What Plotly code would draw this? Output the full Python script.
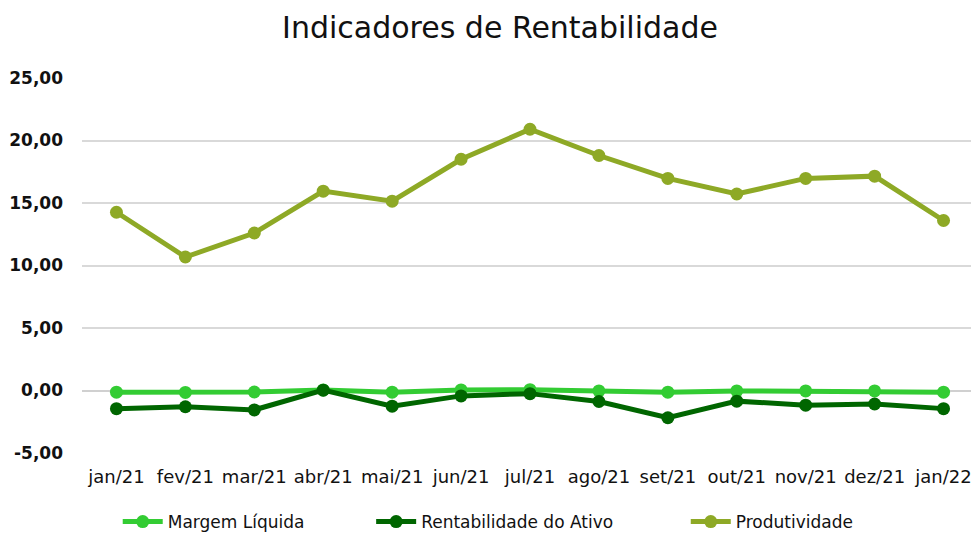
import plotly.graph_objects as go

months = ["jan/21", "fev/21", "mar/21", "abr/21", "mai/21", "jun/21", "jul/21",
          "ago/21", "set/21", "out/21", "nov/21", "dez/21", "jan/22"]
margem_liquida = [-0.13, -0.15, -0.12, 0.05, -0.13, 0.05, 0.07, -0.03, -0.13, -0.03, -0.03, -0.03, -0.13]
rentabilidade_ativo = [-1.45, -1.3, -1.55, 0.03, -1.25, -0.43, -0.25, -0.88, -2.18, -0.85, -1.17, -1.08, -1.45]
produtividade = [14.26, 10.68, 12.6, 15.95, 15.15, 18.5, 20.9, 18.8, 16.97, 15.72, 16.97, 17.15, 13.6]

y_ticks = [-5, 0, 5, 10, 15, 20, 25]
y_tick_labels = ["-5,00", "0,00", "5,00", "10,00", "15,00", "20,00", "25,00"]

FONT = "DejaVu Sans"
TXT = "#111111"
W, H = 971, 525  # page body has an 8px margin

fig = go.Figure()
series = [
    ("Margem Líquida", margem_liquida, "#33cc33", "legend", 0.113),
    ("Rentabilidade do Ativo", rentabilidade_ativo, "#006600", "legend2", 0.374),
    ("Produtividade", produtividade, "#8ea926", "legend3", 0.698),
]
legends = {}
for name, vals, color, leg, lx in series:
    fig.add_trace(go.Scatter(
        x=months, y=vals, name=name, mode="lines+markers",
        line=dict(color=color, width=5),
        marker=dict(color=color, size=13),
        legend=leg,
    ))
    legends[leg] = dict(orientation="h", x=lx, xref="container", xanchor="left",
                        y=1 - 514 / H, yref="container", yanchor="middle",
                        font=dict(family=FONT, size=17, color=TXT),
                        bgcolor="rgba(0,0,0,0)", itemwidth=40)

fig.update_layout(
    width=W, height=H,
    paper_bgcolor="white", plot_bgcolor="white",
    margin=dict(l=74, r=1, t=70, b=80),
    title=dict(text="Indicadores de Rentabilidade", x=(500 - 8) / W, xref="container",
               xanchor="center", y=1 - 19 / H, yanchor="middle", yref="container",
               font=dict(family=FONT, size=30, color=TXT)),
    font=dict(family=FONT, color=TXT),
    showlegend=True,
    xaxis=dict(type="category", range=[-0.5, len(months) - 0.5],
               showgrid=False, showline=False, ticks="",
               tickfont=dict(family=FONT, size=18, color=TXT),
               ticklabelstandoff=11, automargin=False, fixedrange=True),
    yaxis=dict(range=[-5, 25], tickvals=y_ticks, ticktext=y_tick_labels,
               showgrid=True, gridcolor="#d9d9d9", gridwidth=2,
               zeroline=True, zerolinecolor="#d0d0d0", zerolinewidth=2,
               showline=False, ticks="",
               tickfont=dict(family=FONT, size=17, color=TXT, weight=600),
               ticklabelstandoff=18, automargin=False, fixedrange=True),
    **legends,
)

fig.write_html("out.html")
